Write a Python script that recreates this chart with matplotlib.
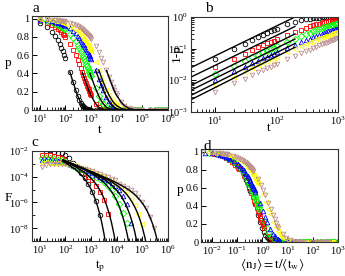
import numpy as np
import matplotlib
matplotlib.use('Agg')
import matplotlib.pyplot as plt
from matplotlib import ticker

plt.rcParams['font.family'] = ['Liberation Serif', 'DejaVu Serif']
plt.rcParams['mathtext.fontset'] = 'stix'
plt.rcParams['axes.linewidth'] = 0.8

# ---------------- data ----------------
t = [10, 20, 30, 40, 50, 60, 70, 80, 90, 100,
     150, 200, 250, 300, 350, 400, 450, 500, 550, 600, 650, 700, 750, 800, 850, 900, 950, 1000,
     1500, 2000, 2500, 3000, 4000, 5000, 6000, 7000, 8000, 9000, 10000,
     15000, 20000, 30000, 40000, 50000, 60000, 70000, 80000, 90000, 100000,
     200000, 300000, 400000, 500000, 600000, 700000, 800000, 900000, 1000000]

p_black = [0.9542, 0.9056, 0.8576, 0.8109, 0.7659, 0.7227, 0.6814, 0.6421, 0.6046, 0.5690,
           0.4175, 0.3037, 0.2194, 0.1578, 0.1129, 0.0805, 0.0572, 0.0405, 0.0286, 0.0202, 0.0142, 0.0099, 0.0070, 0.0049, 0.0034, 0.0024, 0.0016, 0.0011,
           0, 0, 0, 0, 0, 0, 0, 0, 0, 0, 0,
           0, 0, 0, 0, 0, 0, 0, 0, 0, 0,
           0, 0, 0, 0, 0, 0, 0, 0, 0]
p_red = [0.9743, 0.9518, 0.9307, 0.9106, 0.8913, 0.8727, 0.8547, 0.8372, 0.8203, 0.8038,
         0.7279, 0.6608, 0.6010, 0.5474, 0.4991, 0.4556, 0.4162, 0.3806, 0.3482, 0.3187, 0.2920, 0.2676, 0.2453, 0.2250, 0.2065, 0.1896, 0.1741, 0.1599,
         0.0695, 0.0309, 0.0139, 0.0064, 0.0014, 0, 0, 0, 0, 0, 0,
         0, 0, 0, 0, 0, 0, 0, 0, 0, 0,
         0, 0, 0, 0, 0, 0, 0, 0, 0]
p_green = [0.9846, 0.9714, 0.9590, 0.9471, 0.9357, 0.9246, 0.9138, 0.9033, 0.8930, 0.8830,
           0.8356, 0.7921, 0.7519, 0.7144, 0.6793, 0.6464, 0.6154, 0.5862, 0.5587, 0.5327, 0.5081, 0.4847, 0.4627, 0.4417, 0.4218, 0.4029, 0.3850, 0.3679,
           0.2361, 0.1537, 0.1011, 0.0670, 0.0300, 0.0137, 0.0063, 0.0030, 0.0014, 0.0007, 0,
           0, 0, 0, 0, 0, 0, 0, 0, 0, 0,
           0, 0, 0, 0, 0, 0, 0, 0, 0]
p_blue = [0.9896, 0.9810, 0.9730, 0.9654, 0.9582, 0.9511, 0.9443, 0.9376, 0.9311, 0.9247,
          0.8946, 0.8666, 0.8403, 0.8155, 0.7920, 0.7695, 0.7480, 0.7274, 0.7076, 0.6885, 0.6702, 0.6525, 0.6355, 0.6190, 0.6031, 0.5877, 0.5728, 0.5584,
          0.4362, 0.3443, 0.2738, 0.2190, 0.1420, 0.0934, 0.0621, 0.0416, 0.0281, 0.0191, 0.0130,
          0.0021, 0, 0, 0, 0, 0, 0, 0, 0, 0,
          0, 0, 0, 0, 0, 0, 0, 0, 0]
p_yellow = [0.9930, 0.9870, 0.9813, 0.9759, 0.9706, 0.9655, 0.9604, 0.9555, 0.9506, 0.9459,
            0.9230, 0.9014, 0.8808, 0.8611, 0.8421, 0.8238, 0.8062, 0.7891, 0.7725, 0.7564, 0.7408, 0.7257, 0.7109, 0.6965, 0.6826, 0.6689, 0.6557, 0.6427,
            0.5290, 0.4383, 0.3648, 0.3048, 0.2200, 0.1650, 0.1250, 0.0960, 0.0750, 0.0600, 0.0480,
            0.0180, 0.0080, 0.0015, 0, 0, 0, 0, 0, 0, 0,
            0, 0, 0, 0, 0, 0, 0, 0, 0]
p_brown = [0.9957, 0.9921, 0.9888, 0.9856, 0.9825, 0.9794, 0.9765, 0.9736, 0.9708, 0.9680,
           0.9546, 0.9418, 0.9297, 0.9180, 0.9066, 0.8956, 0.8849, 0.8744, 0.8642, 0.8542, 0.8445, 0.8349, 0.8255, 0.8163, 0.8073, 0.7984, 0.7897, 0.7812,
           0.7027, 0.6348, 0.5752, 0.5224, 0.4332, 0.3613, 0.3027, 0.2544, 0.2145, 0.1813, 0.1600,
           0.0850, 0.0480, 0.0170, 0.0070, 0.0030, 0.0012, 0.0005, 0, 0, 0,
           0, 0, 0, 0, 0, 0, 0, 0, 0]

# mean waiting time per series (panel d: <n_J> = t/<t_w>)
t_w = [302, 832, 1318, 1950, 1479, 2291]
# panel a: fit curves drawn from this t onward
a_fit_from = [150, 450, 900, 1500, 2000, 4000]
# panel b: power-law fits, value at t=4 and t=200
b_fit_t = [4, 200]
b_fit_lo = [0.025, 0.0125, 0.0068, 0.0048, 0.0033, 0.0024]
b_fit_hi = [1.0, 0.5, 0.29, 0.2, 0.145, 0.11]

# panel c: distribution F(t_p), given as log10 values
c_logt = [1.1, 1.25, 1.4, 1.55, 1.7, 1.85, 2.0, 2.15, 2.3, 2.45, 2.6, 2.75, 2.9, 3.05, 3.2,
          3.35, 3.5, 3.65, 3.8, 3.95, 4.1, 4.25, 4.4, 4.55, 4.7, 4.85, 5.0, 5.15, 5.3, 5.45]
c_black = [np.nan, -2.05, -1.95, -2.1, -2.15, -2.2, -2.35, -2.6, -2.95, -3.35, -3.75, -4.1, -4.6, -5.2, -5.9, -7.0]
c_red = [-2.33, -2.3, -2.35, -2.4, -2.45, -2.55, -2.7, -2.95, -3.15, -3.35, -3.5, -3.75, -4.0, -4.3, -4.7, -5.2, -5.8, -6.9]
c_green = [-2.59, -2.55, -2.6, -2.62, -2.7, -2.75, -2.85, -3.0, -3.15, -3.3, -3.45, -3.6, -3.75, -3.9, -4.05, -4.2,
           -4.45, -4.75, -5.05, -5.5, -6.1, -6.8, -7.6]
c_blue = [-2.72, -2.7, -2.75, -2.78, -2.8, -2.85, -2.9, -3.0, -3.1, -3.2, -3.35, -3.45, -3.6, -3.75, -3.9, -4.0,
          -4.15, -4.3, -4.5, -4.75, -5.05, -5.5, -6.1, -7.6]
c_yellow = [-2.95, -2.9, -2.92, -2.95, -2.95, -2.98, -3.0, -3.05, -3.1, -3.2, -3.3, -3.4, -3.5, -3.6, -3.75, -3.85,
            -3.95, -4.2, -4.35, -4.55, -4.75, -5.0, -5.3, -5.7, -6.2, -6.9, -7.7]
c_brown = [-3.24, -3.1, -3.05, -3.05, -3.0, -3.05, -3.05, -3.1, -3.15, -3.25, -3.3, -3.4, -3.5, -3.6, -3.7, -3.8,
           -3.95, -4.05, -4.15, -4.3, -4.55, -4.7, -4.85, -5.05, -5.3, -5.6, -5.95, -6.45, -7.1, -8.0]

cfit_logt = [1.9, 2.0, 2.1, 2.2, 2.3, 2.4, 2.5, 2.6, 2.7, 2.8, 2.9, 3.0, 3.1, 3.2, 3.3, 3.4, 3.5, 3.6, 3.7, 3.8,
             3.9, 4.0, 4.1, 4.2, 4.3, 4.4, 4.5, 4.6, 4.7, 4.8, 4.9, 5.0, 5.1, 5.2, 5.3, 5.4, 5.5, 5.6, 5.7]
cfit_black = [-2.83, -2.94, -3.05, -3.18, -3.32, -3.47, -3.64, -3.83, -4.05, -4.31, -4.62, -4.98, -5.42, -5.95,
              -6.60, -7.39, -8.37, -9.59]
cfit_red = [-2.76, -2.85, -2.95, -3.04, -3.15, -3.25, -3.37, -3.49, -3.63, -3.77, -3.94, -4.13, -4.35, -4.60,
            -4.90, -5.25, -5.67, -6.19, -6.81, -7.58, -8.52, -9.69]
cfit_green = [-2.73, -2.81, -2.90, -2.98, -3.07, -3.16, -3.25, -3.34, -3.43, -3.53, -3.64, -3.75, -3.86, -3.99,
              -4.13, -4.29, -4.46, -4.66, -4.89, -5.16, -5.47, -5.85, -6.31, -6.86, -7.54, -8.37, -9.40]
cfit_blue = [-2.73, -2.81, -2.89, -2.97, -3.05, -3.14, -3.22, -3.31, -3.39, -3.48, -3.57, -3.67, -3.76, -3.86,
             -3.97, -4.08, -4.21, -4.34, -4.49, -4.65, -4.84, -5.06, -5.30, -5.60, -5.95, -6.37, -6.87, -7.49,
             -8.24, -9.17, -10.32]
cfit_yellow = [-2.72, -2.80, -2.88, -2.96, -3.05, -3.13, -3.21, -3.29, -3.37, -3.46, -3.54, -3.63, -3.71, -3.80,
               -3.89, -3.99, -4.09, -4.19, -4.30, -4.41, -4.54, -4.67, -4.82, -4.99, -5.18, -5.40, -5.66, -5.97,
               -6.33, -6.76, -7.28, -7.93, -8.71, -9.68]
cfit_brown = [-2.72, -2.80, -2.88, -2.96, -3.04, -3.12, -3.20, -3.28, -3.36, -3.45, -3.53, -3.61, -3.69, -3.77,
              -3.86, -3.94, -4.03, -4.11, -4.20, -4.29, -4.39, -4.49, -4.59, -4.70, -4.81, -4.93, -5.07, -5.22,
              -5.39, -5.58, -5.80, -6.05, -6.35, -6.71, -7.14, -7.66, -8.30, -9.07, -10.03]

colors = ['#000000', '#ff0000', '#00ff00', '#0000ff', '#ffff00', '#bc8f8f']
markers = ['o', 's', 'D', '^', '<', 'v']

P = [p_black, p_red, p_green, p_blue, p_yellow, p_brown]
CM = [c_black, c_red, c_green, c_blue, c_yellow, c_brown]
CL = [cfit_black, cfit_red, cfit_green, cfit_blue, cfit_yellow, cfit_brown]

# ---------------- figure ----------------
fig = plt.figure(figsize=(3.45, 2.76), dpi=100)
W, H = 345., 276.
def axbox(l, r, tp, b):
    return fig.add_axes([l/W, 1-b/H, (r-l)/W, (b-tp)/H])
axa = axbox(32, 168, 16, 110)
axb = axbox(191, 337.7, 17, 111.7)
axc = axbox(32, 168, 150.7, 241.3)
axd = axbox(201.3, 337.7, 149, 242)

ta = np.array(t, float)
mk = dict(ms=3.3, mew=0.6, mfc='none', ls='none')
for i in range(6):
    p = np.array(P[i])
    axa.plot(ta, p, marker=markers[i], color=colors[i], **mk)
    m = ta <= 1000
    axb.plot(ta[m], 1 - p[m], marker=markers[i], color=colors[i], **mk)
    axd.plot(ta / t_w[i], p, marker=markers[i], color=colors[i], **mk)
    n = len(CM[i])
    axc.plot(10**np.array(c_logt[:n]), 10**np.array(CM[i]), marker=markers[i], color=colors[i], **mk)
for i in range(6):
    p = np.array(P[i])
    s = ta >= a_fit_from[i]
    axa.plot(ta[s], p[s], color='k', lw=1.0)
    n = len(CL[i])
    axc.plot(10**np.array(cfit_logt[:n]), 10**np.array(CL[i]), color='k', lw=1.0)
    axb.plot(b_fit_t, [b_fit_lo[i], b_fit_hi[i]], color='k', lw=1.0)

for ax in (axa, axb, axc, axd):
    ax.tick_params(which='both', direction='in', labelsize=7.5, pad=2)
    ax.tick_params(which='major', length=3.5, width=0.7)
    ax.tick_params(which='minor', length=2, width=0.6)
    for s in ax.spines.values():
        s.set_color('#333333')
fmt = ticker.FuncFormatter(lambda v, pos: '%g' % v)
for ax in (axa, axd):
    ax.set_xscale('log')
    ax.set_ylim(0, 1.03)
    ax.yaxis.set_major_locator(ticker.MultipleLocator(0.2))
    ax.yaxis.set_major_formatter(fmt)
axa.set_xlim(5, 1e6)
axd.set_xlim(3.7e-3, 1e3)
axb.set_xscale('log'); axb.set_yscale('log')
axb.set_xlim(4, 1000); axb.set_ylim(1e-3, 1)
axc.set_xscale('log'); axc.set_yscale('log')
axc.set_xlim(5, 1e6); axc.set_ylim(1e-9, 1e-2)
axc.yaxis.set_major_locator(ticker.LogLocator(base=100))
axc.yaxis.set_minor_locator(ticker.FixedLocator([1e-3, 1e-5, 1e-7, 1e-9]))
for ax in (axa, axb, axc, axd):
    ax.xaxis.set_major_locator(ticker.LogLocator(base=10, numticks=20))
    ax.xaxis.set_minor_locator(ticker.LogLocator(base=10, subs=np.arange(2, 10), numticks=20))
    ax.xaxis.set_minor_formatter(ticker.NullFormatter())
    ax.yaxis.set_minor_formatter(ticker.NullFormatter())

lab = dict(fontsize=9.5, ha='center', va='center')
axa.text(-0.176, 0.5, 'p', transform=axa.transAxes, **lab)
axa.text(0.5, -0.213, 't', transform=axa.transAxes, **lab)
axb.text(-0.095, 0.62, '1-p', rotation=90, transform=axb.transAxes, **lab)
axb.text(0.53, -0.17, 't', transform=axb.transAxes, **lab)
axc.text(-0.176, 0.478, 'F', transform=axc.transAxes, **lab)
axc.text(0.5, -0.273, r't$_\mathrm{p}$', transform=axc.transAxes, **lab)
axd.text(-0.156, 0.56, 'p', transform=axd.transAxes, **lab)
axd.text(0.518, -0.244, r'$\langle\mathrm{n_J}\rangle = \mathrm{t}/\langle\mathrm{t_w}\rangle$',
         transform=axd.transAxes, **lab)
for x, y, s in [(35.5, 8.5, 'a'), (209, 9, 'b'), (35, 142, 'c'), (207, 146, 'd')]:
    fig.text(x/W, 1-y/H, s, fontsize=11, ha='center', va='center')

fig.savefig('out.png', dpi=100)
